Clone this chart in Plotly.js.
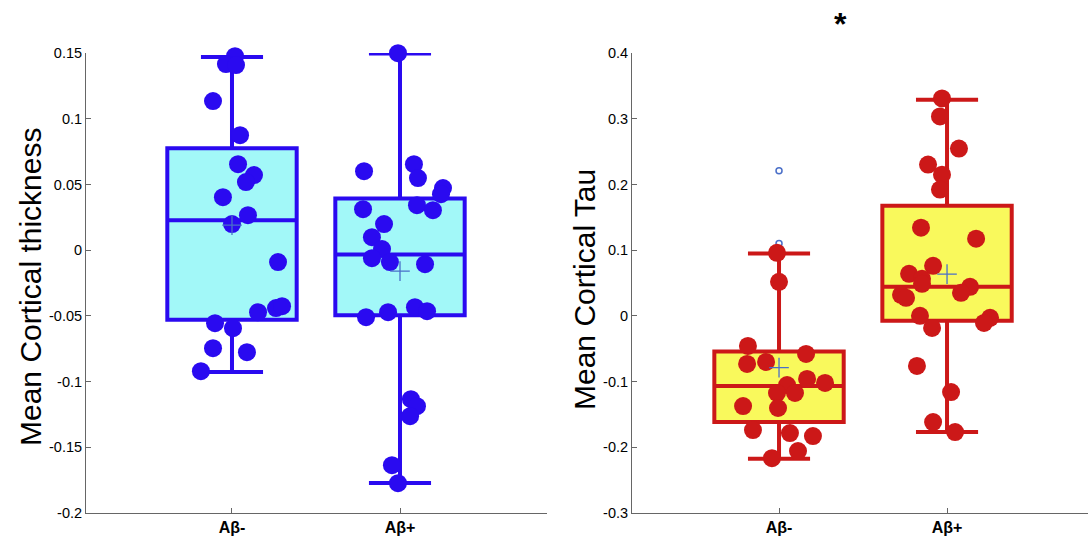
<!DOCTYPE html>
<html>
<head>
<meta charset="utf-8">
<script src="https://cdn.plot.ly/plotly-3.0.1.min.js"></script>
<style>html,body{margin:0;padding:0;background:#fff;}#chart{width:1088px;height:544px;}</style>
</head>
<body>
<div id="chart"></div>
<script>
// ---------- data ----------
const categories = ["Aβ-", "Aβ+"];

// Mean Cortical thickness – individual points (jitter offsets in category units)
const thickNegY = [0.1476, 0.1416, 0.1408, 0.1134, 0.0875, 0.0654, 0.0571, 0.0518, 0.0403, 0.0266,
                   0.0198, -0.0091, -0.0472, -0.0441, -0.0426, -0.0556, -0.0594, -0.0746, -0.0776, -0.0921];
const thickNegJit = [0.018, -0.036, 0.024, -0.113, 0.048, 0.036, 0.131, 0.083, -0.054, 0.095,
                     0.0, 0.274, 0.155, 0.262, 0.298, -0.101, 0.006, -0.113, 0.089, -0.185];
const thickPosY = [0.1499, 0.0601, 0.0654, 0.0548, 0.0472, 0.0426, 0.0312, 0.0342, 0.0304, 0.0198,
                   0.0099, 0.0008, -0.0061, -0.0091, -0.0107, -0.0510, -0.0472, -0.0434, -0.0464,
                   -0.1134, -0.1187, -0.1263, -0.1636, -0.1773];
const thickPosJit = [-0.012, -0.214, 0.083, 0.107, 0.256, 0.244, -0.220, 0.101, 0.196, -0.095,
                     -0.167, -0.107, -0.167, -0.060, 0.149, -0.202, -0.071, 0.089, 0.161,
                     0.065, 0.101, 0.060, -0.048, -0.012];

// Mean Cortical Tau – individual points
const tauNegY = [0.0960, 0.0518, -0.0457, -0.0579, -0.0732, -0.0701, -0.1052, -0.0960, -0.1021,
                 -0.1174, -0.1174, -0.1372, -0.1402, -0.1738, -0.1784, -0.1829, -0.2058, -0.2165];
const tauNegJit = [-0.012, 0.0, -0.185, 0.161, -0.190, -0.077, 0.048, 0.167, 0.274,
                   -0.012, 0.095, -0.214, -0.006, -0.155, 0.065, 0.202, 0.113, -0.042];
const tauPosY = [0.3308, 0.3034, 0.2546, 0.2302, 0.2149, 0.1921, 0.1341, 0.1174, 0.0762, 0.0640,
                 0.0564, 0.0488, 0.0320, 0.0274, 0.0442, 0.0351, 0.0, -0.0183, -0.0030, -0.0107,
                 -0.0762, -0.1159, -0.1616, -0.1768];
const tauPosJit = [-0.030, -0.042, 0.071, -0.113, -0.030, -0.042, -0.155, 0.173, -0.083, -0.226,
                   -0.149, -0.149, -0.274, -0.244, 0.137, 0.083, -0.161, -0.089, 0.256, 0.220,
                   -0.179, 0.024, -0.083, 0.048];

// Box statistics [Aβ-, Aβ+]
const thickQ1 = [-0.0530, -0.0495];
const thickMedian = [0.0227, -0.0033];
const thickQ3 = [0.0776, 0.0393];
const thickLow = [-0.0928, -0.1771];
const thickHigh = [0.1469, 0.1497];
const thickMean = [0.0190, -0.0160];

const tauQ1 = [-0.1616, -0.0076];
const tauMedian = [-0.1067, 0.0442];
const tauQ3 = [-0.0544, 0.1677];
const tauLow = [-0.2175, -0.1768];
const tauHigh = [0.0950, 0.3288];
const tauMean = [-0.0788, 0.0635];

const tauOutlierY = [0.221, 0.110];
const tauOutlierCat = [0, 0];

const yTicksThick = [-0.2, -0.15, -0.1, -0.05, 0, 0.05, 0.1, 0.15];
const yTickTextThick = ["-0.2", "-0.15", "-0.1", "-0.05", "0", "0.05", "0.1", "0.15"];
const yTicksTau = [-0.3, -0.2, -0.1, 0, 0.1, 0.2, 0.3, 0.4];
const yTickTextTau = ["-0.3", "-0.2", "-0.1", "0", "0.1", "0.2", "0.3", "0.4"];

// ---------- styles ----------
const BLUE = '#2A0AF0', CYAN = '#A2F8F8', RED = '#CC1818', YELLOW = '#F9F95C';
const MEANC = '#4A6FC8';
const FONT = 'Liberation Sans, Arial, Helvetica, sans-serif';

function boxTrace(q1, med, q3, lo, hi, xa, ya, lineC, fillC) {
  return {
    type: 'box', x: [0, 1], q1: q1, median: med, q3: q3, lowerfence: lo, upperfence: hi,
    width: 0.77, whiskerwidth: 0.48, boxpoints: false,
    line: {color: lineC, width: 4}, fillcolor: fillC,
    xaxis: xa, yaxis: ya, hoverinfo: 'skip'
  };
}
function dots(cat, jit, ys, xa, ya, col) {
  return {
    type: 'scatter', mode: 'markers', x: jit.map(j => cat + j), y: ys, cliponaxis: false,
    marker: {size: 18, color: col, line: {width: 0}}, xaxis: xa, yaxis: ya, hoverinfo: 'skip'
  };
}
function means(ms, xa, ya) {
  return {
    type: 'scatter', mode: 'markers', x: [0, 1], y: ms, cliponaxis: false,
    marker: {symbol: 'cross-thin', size: 14, color: MEANC, line: {color: MEANC, width: 1.3}},
    xaxis: xa, yaxis: ya, hoverinfo: 'skip'
  };
}

const data = [
  boxTrace(thickQ1, thickMedian, thickQ3, thickLow, thickHigh, 'x', 'y', BLUE, CYAN),
  dots(0, thickNegJit, thickNegY, 'x', 'y', BLUE),
  dots(1, thickPosJit, thickPosY, 'x', 'y', BLUE),
  means(thickMean, 'x', 'y'),
  boxTrace(tauQ1, tauMedian, tauQ3, tauLow, tauHigh, 'x2', 'y2', RED, YELLOW),
  {type: 'scatter', mode: 'markers', x: tauOutlierCat, y: tauOutlierY, cliponaxis: false,
   marker: {symbol: 'circle-open', size: 6, color: MEANC, line: {color: MEANC, width: 1.5}},
   xaxis: 'x2', yaxis: 'y2', hoverinfo: 'skip'},
  dots(0, tauNegJit, tauNegY, 'x2', 'y2', RED),
  dots(1, tauPosJit, tauPosY, 'x2', 'y2', RED),
  means(tauMean, 'x2', 'y2')
];

const W = 1088, H = 544;
const yDom = [(H - 513) / H, (H - 53) / H];
const axCommon = {
  showline: true, linecolor: '#666666', linewidth: 1, showgrid: false, zeroline: false,
  ticks: 'inside', ticklen: 5, tickcolor: '#666666', tickwidth: 1, automargin: false
};
const layout = {
  width: W, height: H, margin: {l: 0, r: 0, t: 0, b: 0},
  paper_bgcolor: '#fff', plot_bgcolor: '#fff', showlegend: false,
  font: {family: FONT, color: '#000'},
  xaxis: Object.assign({}, axCommon, {
    domain: [86 / W, 547 / W], range: [-0.869, 1.875], anchor: 'y',
    tickvals: [0, 1], ticktext: categories.map(c => '<b>' + c + '</b>'),
    tickfont: {family: FONT, size: 16, color: '#000'}
  }),
  yaxis: Object.assign({}, axCommon, {
    domain: yDom, range: [-0.2, 0.15], anchor: 'x',
    tickvals: yTicksThick, ticktext: yTickTextThick,
    tickfont: {family: FONT, size: 14.5, color: '#000'}
  }),
  xaxis2: Object.assign({}, axCommon, {
    domain: [632 / W, 1], range: [-0.875, 1.839], anchor: 'y2',
    tickvals: [0, 1], ticktext: categories.map(c => '<b>' + c + '</b>'),
    tickfont: {family: FONT, size: 16, color: '#000'}
  }),
  yaxis2: Object.assign({}, axCommon, {
    domain: yDom, range: [-0.3, 0.4], anchor: 'x2',
    tickvals: yTicksTau, ticktext: yTickTextTau,
    tickfont: {family: FONT, size: 14.5, color: '#000'}
  }),
  annotations: [
    {text: 'Mean Cortical thickness', xref: 'paper', yref: 'paper', x: 30 / W, y: (H - 287) / H,
     textangle: -90, showarrow: false, font: {family: FONT, size: 30, color: '#000'},
     xanchor: 'center', yanchor: 'middle'},
    {text: 'Mean Cortical Tau', xref: 'paper', yref: 'paper', x: 584 / W, y: (H - 290) / H,
     textangle: -90, showarrow: false, font: {family: FONT, size: 30, color: '#000'},
     xanchor: 'center', yanchor: 'middle'},
    {text: '<b>*</b>', xref: 'paper', yref: 'paper', x: 840 / W, y: (H - 4) / H,
     showarrow: false, font: {family: FONT, size: 32, color: '#000'},
     xanchor: 'center', yanchor: 'top'}
  ]
};

Plotly.newPlot('chart', data, layout, {staticPlot: true, displayModeBar: false});
</script>
</body>
</html>
